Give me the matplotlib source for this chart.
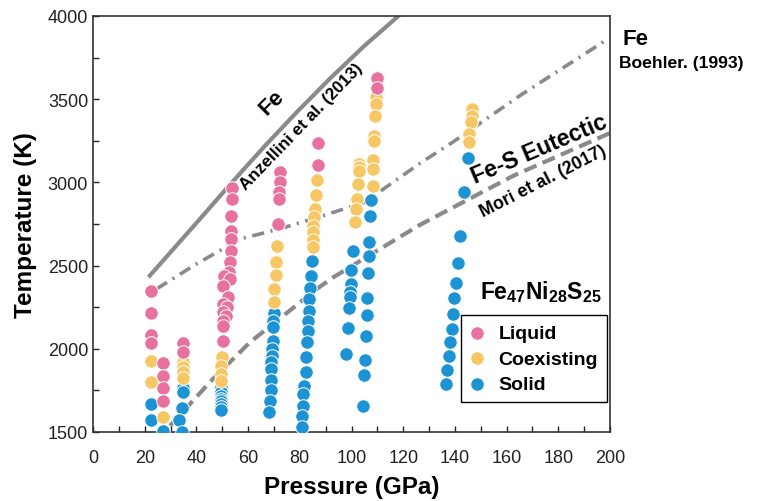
import matplotlib.pyplot as plt
from matplotlib.ticker import MultipleLocator

plt.rcParams['font.family'] = ['Liberation Sans', 'DejaVu Sans']
plt.rcParams['mathtext.fontset'] = 'custom'
plt.rcParams['mathtext.rm'] = 'Liberation Sans'
plt.rcParams['mathtext.bf'] = 'Liberation Sans:bold'

# datos (P en GPa, T en K)
liquid_p = [22.4, 22.4, 22.4, 22.4,
            27.1, 27.1, 27.1, 27.1,
            34.8, 34.8,
            53.8, 53.8, 53.4, 53.4, 53.4, 53.4, 53.0, 52.6, 50.7, 53.0, 50.3,
            52.2, 50.3, 51.8, 50.3, 51.5, 50.3, 50.3, 50.3,
            72.3, 72.3, 71.9, 71.9, 71.6,
            87.0, 87.0,
            109.9, 109.9]
liquid_t = [2347, 2215, 2083, 2035,
            1915, 1837, 1764, 1686,
            2035, 1981,
            2966, 2900, 2798, 2708, 2660, 2588, 2522, 2462, 2438, 2420, 2377,
            2311, 2269, 2251, 2221, 2200, 2167, 2137, 2047,
            3063, 3003, 2942, 2900, 2750,
            3237, 3105,
            3628, 3567]

coex_p = [22.4, 22.4,
          27.1,
          34.8, 34.8, 34.8, 34.8,
          49.9, 49.5, 49.5, 49.5,
          71.2, 70.8, 70.8, 70.0, 70.0,
          86.6, 86.3, 85.9, 85.5, 85.1, 85.1, 85.1, 85.1,
          102.9, 102.9, 102.9, 102.5, 102.0, 101.8, 101.4,
          109.5, 109.5, 109.1, 108.7, 108.7, 108.3, 108.3, 108.3,
          146.6, 146.6, 146.2, 145.5, 145.5]
coex_t = [1927, 1800,
          1590,
          1921, 1891, 1861, 1825,
          1951, 1897, 1849, 1807,
          2618, 2522, 2444, 2360, 2281,
          3015, 2924, 2840, 2792, 2738, 2702, 2654, 2612,
          3111, 3093, 3069, 2990, 2900, 2840, 2762,
          3513, 3471, 3399, 3279, 3249, 3135, 3081, 2978,
          3441, 3399, 3363, 3291, 3243]

solid_p = [22.4, 22.4,
           27.1,
           34.8, 34.8, 34.4, 33.3, 34.4,
           49.5, 49.5, 49.5, 49.5, 49.5, 49.5, 49.5, 49.5,
           70.0, 69.6, 69.6, 69.6, 69.3, 69.3, 68.9, 68.9, 68.9, 68.9, 68.5, 68.1,
           84.7, 84.3, 83.9, 83.6, 83.6, 83.2, 83.2, 82.8, 82.4, 82.4, 81.6, 81.2,
           81.2, 80.8, 80.8,
           100.6, 99.8, 99.8, 99.4, 99.4, 99.0, 98.7, 97.9,
           107.5, 107.1, 106.8, 106.8, 106.4, 106.0, 106.0, 105.6, 105.2, 104.8, 104.4,
           145.0, 143.5, 142.0, 141.2, 140.4, 139.7, 139.3, 138.9, 138.1, 137.7, 136.9, 136.6]
solid_t = [1668, 1572,
           1506,
           1764, 1740, 1644, 1572, 1500,
           1770, 1740, 1716, 1700, 1686, 1668, 1650, 1635,
           2215, 2167, 2131, 2047, 1999, 1957, 1921, 1879, 1813, 1752, 1686, 1620,
           2528, 2438, 2366, 2300, 2227, 2167, 2107, 2041, 1951, 1861, 1777, 1728,
           1656, 1596, 1530,
           2588, 2474, 2390, 2342, 2311, 2245, 2125, 1969,
           2894, 2798, 2642, 2558, 2456, 2305, 2203, 2077, 1933, 1843, 1656,
           3147, 2942, 2678, 2516, 2396, 2305, 2209, 2119, 2041, 1957, 1873, 1788]

# curvas de fusion
anz_p = [22, 40, 53, 66, 79, 92, 105, 118.5]
anz_t = [2440, 2756, 2987, 3211, 3425, 3629, 3821, 4005]
boe_p = [24.6, 40, 57, 72, 89, 105, 127, 139, 165, 199]
boe_t = [2360, 2510, 2660, 2720, 2800, 2880, 3120, 3240, 3520, 3860]
mori_p = [29.8, 46.4, 60.7, 73.5, 86.5, 93, 104.6, 126.5, 162.5, 200.5]
mori_t = [1538, 1819, 2039, 2197, 2359, 2430, 2540, 2745, 3039, 3300]

fig = plt.figure(figsize=(7.61, 5.02), dpi=100)
ax = fig.add_axes([93/761, 1-433/502, 517/761, 416/502])

gris = '#8a8a8a'
ax.plot(anz_p, anz_t, '-', color=gris, lw=3, zorder=1)
ax.plot(boe_p, boe_t, color=gris, lw=2.6, dashes=(3.4, 1.8, 0.6, 1.8), zorder=1)
ax.plot(mori_p, mori_t, color=gris, lw=3, dashes=(3.2, 1.6), zorder=1)

ms = 95
ax.scatter(solid_p, solid_t, s=ms, color='#1e93d3', edgecolors='white', linewidths=0.7, zorder=3, label='Solid')
ax.scatter(coex_p, coex_t, s=ms, color='#f7c766', edgecolors='white', linewidths=0.7, zorder=3, label='Coexisting')
ax.scatter(liquid_p, liquid_t, s=ms, color='#e8729f', edgecolors='white', linewidths=0.7, zorder=4, label='Liquid')

ax.set_xlim(0, 200)
ax.set_ylim(1500, 4000)
ax.xaxis.set_major_locator(MultipleLocator(20))
ax.xaxis.set_minor_locator(MultipleLocator(10))
ax.yaxis.set_major_locator(MultipleLocator(500))
ax.yaxis.set_minor_locator(MultipleLocator(250))
ax.tick_params(which='both', direction='in', length=4, width=1, labelsize=13, colors='#222222')
ax.tick_params(axis='x', pad=12)
for s in ax.spines.values():
    s.set_color('#333333')
    s.set_linewidth(1.2)

ax.set_xlabel('Pressure (GPa)', fontsize=17.5, fontweight='bold', labelpad=7)
ax.set_ylabel('Temperature (K)', fontsize=17.5, fontweight='bold', labelpad=8)

# textos de las curvas
ax.text(69.3, 3483, 'Fe', fontsize=16, fontweight='bold', rotation=45, ha='center', va='center')
ax.text(80.5, 3340, 'Anzellini et al. (2013)', fontsize=12.3, fontweight='bold', rotation=46, ha='center', va='center')
ax.text(205, 3862, 'Fe', fontsize=16, fontweight='bold', ha='left', va='center')
ax.text(203.5, 3720, 'Boehler. (1993)', fontsize=12.6, fontweight='bold', ha='left', va='center')
ax.text(172.5, 3205, 'Fe-S Eutectic', fontsize=16.6, fontweight='bold', rotation=23, ha='center', va='center')
ax.text(174, 3010, 'Mori et al. (2017)', fontsize=12.8, fontweight='bold', rotation=27, ha='center', va='center')
ax.text(173.3, 2305, r'$\mathbf{Fe_{47}Ni_{28}S_{25}}$', fontsize=16.5, ha='center', va='baseline')

h, l = ax.get_legend_handles_labels()
leg = ax.legend(h[::-1], l[::-1], loc='lower right', bbox_to_anchor=(0.994, 0.072), borderaxespad=0,
                fancybox=False, edgecolor='black', framealpha=1, prop={'size': 14, 'weight': 'bold'},
                handlelength=0.8, handletextpad=0.7, labelspacing=0.42, borderpad=0.45)
leg.get_frame().set_linewidth(1)

plt.savefig('out.png', dpi=100)
